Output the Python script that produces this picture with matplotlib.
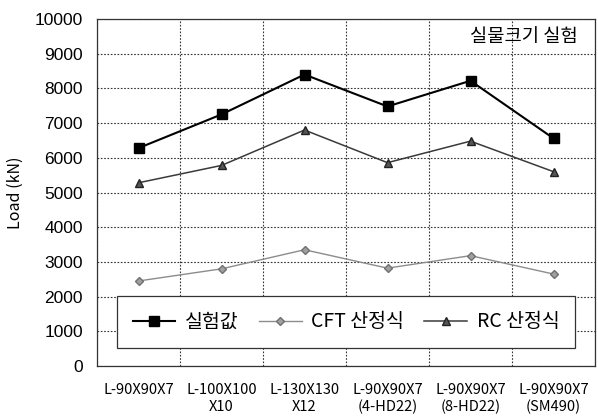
import matplotlib
matplotlib.use("Agg")
import matplotlib.pyplot as plt
from matplotlib.ticker import MultipleLocator, FixedLocator
import numpy as np

plt.rcParams['font.family'] = ['Liberation Sans', 'Noto Sans CJK KR', 'DejaVu Sans']

categories = ["L-90X90X7", "L-100X100\nX10", "L-130X130\nX12",
              "L-90X90X7\n(4-HD22)", "L-90X90X7\n(8-HD22)", "L-90X90X7\n(SM490)"]
experiment = [6280, 7250, 8400, 7480, 8220, 6560]
cft_formula = [2450, 2800, 3350, 2820, 3180, 2650]
rc_formula = [5280, 5780, 6800, 5860, 6480, 5600]

x = np.arange(len(categories))

fig = plt.figure(figsize=(5.98, 4.18), dpi=100)
ax = fig.add_axes([97/598, 1 - 366/418, 498/598, 347/418])

ax.plot(x, experiment, color='black', lw=1.5, marker='s', ms=6.5,
        label='실험값', zorder=4)
ax.plot(x, cft_formula, color='#8c8c8c', lw=1.0, marker='D', ms=4,
        mfc='#a0a0a0', mec='#707070', label='CFT 산정식', zorder=3)
ax.plot(x, rc_formula, color='#3a3a3a', lw=1.1, marker='^', ms=6,
        mfc='#555555', mec='#222222', label='RC 산정식', zorder=3)

ax.set_xlim(-0.5, len(categories) - 0.5)
ax.set_ylim(0, 10000)
ax.yaxis.set_major_locator(MultipleLocator(1000))
ax.set_xticks(x)
ax.set_xticklabels(categories, fontsize=10.5, linespacing=1.3,
                   family=['Noto Sans CJK KR', 'DejaVu Sans'])
ax.xaxis.set_minor_locator(FixedLocator(np.arange(-0.5, len(categories), 1.0)))
ax.tick_params(axis='x', which='both', length=0, pad=12)
ax.tick_params(axis='y', length=0, pad=10, labelsize=12.5)

ax.grid(True, axis='y', which='major', ls=(0, (1.5, 1.5)), color='#333333', lw=0.8)
ax.grid(True, axis='x', which='minor', ls=(0, (1.5, 1.5)), color='#333333', lw=0.8)
ax.set_axisbelow(True)
for s in ax.spines.values():
    s.set_color('#333333')
    s.set_linewidth(0.9)

ax.set_ylabel('Load (kN)', fontsize=11.5, labelpad=8,
              family=['Noto Sans CJK KR', 'DejaVu Sans'])

ax.text(0.965, 0.95, '실물크기 실험', transform=ax.transAxes, ha='right', va='center',
        fontsize=13.5, family=['Noto Sans CJK KR', 'DejaVu Sans'])

leg = ax.legend(loc='lower left', bbox_to_anchor=(20/498, 18/347, 458/498, 56/347),
                mode='expand', ncol=3, frameon=True, fancybox=False,
                edgecolor='#333333', framealpha=1, fontsize=14,
                handlelength=2.2, handletextpad=0.5, borderaxespad=0,
                borderpad=0.8)
leg.get_frame().set_linewidth(0.9)
for t in leg.get_texts():
    t.set_family(['Noto Sans CJK KR', 'DejaVu Sans'])

fig.savefig('out.png', dpi=100)
